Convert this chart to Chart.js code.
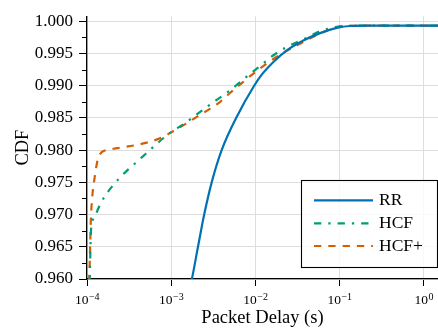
<!DOCTYPE html>
<html><head><meta charset="utf-8">
<script src="https://cdn.jsdelivr.net/npm/chart.js@4"></script>
<style>html,body{margin:0;padding:0;background:#fff;}#wrap{width:438px;height:329px;}</style>
</head><body><div id="wrap"><canvas id="c" width="438" height="329"></canvas></div>
<script>
// ---- data ----
const seriesNames = ['RR', 'HCF', 'HCF+'];

const rrX = [1.72e-3, 1.763e-3, 2.083e-3, 2.468e-3, 3.03e-3, 3.981e-3, 5.917e-3, 9.68e-3, 1.204e-2, 1.640e-2, 2.365e-2, 3.724e-2, 5.875e-2, 9.277e-2, 1.334e-1, 2.305e-1, 1.5];
const rrY = [0.9594, 0.9600, 0.9650, 0.9700, 0.9750, 0.9800, 0.9850, 0.9900, 0.9918, 0.9937, 0.9955, 0.99703, 0.99817, 0.99898, 0.99928, 0.99933, 0.99935];

const hcfX = [1.075e-4, 1.095e-4, 1.115e-4, 1.22e-4, 1.40e-4, 1.60e-4, 2.01e-4, 2.42e-4, 3.03e-4, 3.82e-4, 5.0e-4, 6.3e-4, 8.05e-4, 1.0e-3, 1.401e-3, 2.907e-3, 5.022e-3, 8.215e-3, 1.05e-2, 1.644e-2, 2.366e-2, 4.087e-2, 5.875e-2, 9.88e-2, 1.53e-1, 1.5];
const hcfY = [0.9595, 0.9639, 0.9675, 0.9695, 0.9713, 0.9727, 0.97445, 0.97563, 0.97691, 0.97807, 0.97945, 0.98063, 0.98185, 0.9828, 0.98404, 0.9871, 0.9893, 0.9916, 0.9927, 0.99474, 0.99602, 0.99745, 0.99847, 0.9992, 0.99932, 0.99935];

const hcfPlusX = [1.06e-4, 1.09e-4, 1.11e-4, 1.15e-4, 1.21e-4, 1.28e-4, 1.36e-4, 1.5e-4, 1.6e-4, 2.3e-4, 3.6e-4, 5.75e-4, 8.3e-4, 1.0e-3, 1.47e-3, 2.02e-3, 2.91e-3, 3.82e-3, 5.0e-3, 6.9e-3, 9.5e-3, 1.8e-2, 3.4e-2, 6.4e-2, 1.0e-1, 1.5e-1, 1.5];
const hcfPlusY = [0.9595, 0.965, 0.969, 0.9725, 0.975, 0.9772, 0.9788, 0.9797, 0.9799, 0.98032, 0.98073, 0.98135, 0.98216, 0.98277, 0.98404, 0.98517, 0.98644, 0.98751, 0.98888, 0.99041, 0.9919, 0.9945, 0.99653, 0.99832, 0.99918, 0.99932, 0.99935];

const xTickValues = [1e-4, 1e-3, 1e-2, 1e-1, 1];
const xTickExponents = ['\u22124', '\u22123', '\u22122', '\u22121', '0'];
const yTickValues = [0.960, 0.965, 0.970, 0.975, 0.980, 0.985, 0.990, 0.995, 1.000];
const yMinorTickValues = [0.9625, 0.9675, 0.9725, 0.9775, 0.9825, 0.9875, 0.9925, 0.9975];

// ---- chart ----
const FONT = "'Liberation Serif', 'Times New Roman', serif";
const zip = (xs, ys) => xs.map((x, i) => ({ x: x, y: ys[i] }));

const decor = {
  id: 'decor',
  afterDraw(chart) {
    const { ctx, scales: { x, y }, chartArea } = chart;
    ctx.save();
    ctx.strokeStyle = '#000';
    ctx.lineWidth = 1;
    yMinorTickValues.forEach(v => {
      const py = Math.round(y.getPixelForValue(v)) + 0.5;
      ctx.beginPath();
      ctx.moveTo(chartArea.left - 5, py);
      ctx.lineTo(chartArea.left, py);
      ctx.stroke();
    });
    ctx.fillStyle = '#000';
    ctx.textBaseline = 'alphabetic';
    ctx.textAlign = 'left';
    const baseFont = '13.5px ' + FONT, expFont = '10px ' + FONT;
    const baseY = chartArea.bottom + 25;
    xTickValues.forEach((v, i) => {
      const px = x.getPixelForValue(v);
      ctx.font = baseFont; const wb = ctx.measureText('10').width;
      ctx.font = expFont; const we = ctx.measureText(xTickExponents[i]).width;
      const sx = px - (wb + we) / 2;
      ctx.font = baseFont; ctx.fillText('10', sx, baseY);
      ctx.font = expFont; ctx.fillText(xTickExponents[i], sx + wb + 0.5, baseY - 4.5);
    });
    ctx.restore();
  },
  afterDatasetsDraw(chart) {
    const { ctx, chartArea } = chart;
    const w = 136, h = 87;
    const right = chartArea.right - 1, bottom = chartArea.bottom - 12;
    const left = right - w, top = bottom - h;
    ctx.save();
    ctx.fillStyle = 'rgba(255,255,255,0.8)';
    ctx.fillRect(left, top, w, h);
    ctx.strokeStyle = '#000';
    ctx.lineWidth = 1.1;
    ctx.strokeRect(Math.round(left) + 0.5, Math.round(top) + 0.5, w, h);
    const rows = [20.3, 43.3, 66];
    chart.data.datasets.forEach((ds, i) => {
      const yy = top + rows[i];
      ctx.strokeStyle = ds.borderColor;
      ctx.lineWidth = ds.borderWidth;
      ctx.setLineDash(ds.borderDash || []);
      ctx.lineCap = 'butt';
      ctx.beginPath();
      ctx.moveTo(left + 13, yy);
      ctx.lineTo(left + 72, yy);
      ctx.stroke();
      ctx.setLineDash([]);
      ctx.fillStyle = '#000';
      ctx.font = '17.5px ' + FONT;
      ctx.textBaseline = 'middle';
      ctx.textAlign = 'left';
      ctx.fillText(ds.label, left + 78, yy + 0.5);
    });
    ctx.restore();
  }
};

new Chart(document.getElementById('c'), {
  type: 'line',
  data: {
    datasets: [
      { label: seriesNames[0], data: zip(rrX, rrY), borderColor: '#0072B2', borderWidth: 2.2, pointRadius: 0, fill: false, cubicInterpolationMode: 'monotone' },
      { label: seriesNames[1], data: zip(hcfX, hcfY), borderColor: '#009E73', borderWidth: 2.2, borderDash: [7.3, 7, 2.3, 7], pointRadius: 0, fill: false, cubicInterpolationMode: 'monotone' },
      { label: seriesNames[2], data: zip(hcfPlusX, hcfPlusY), borderColor: '#D55E00', borderWidth: 2.2, borderDash: [7.3, 7], pointRadius: 0, fill: false, cubicInterpolationMode: 'monotone' }
    ]
  },
  options: {
    responsive: false,
    animation: false,
    devicePixelRatio: 1,
    layout: { padding: { top: 12, right: 0, left: 0, bottom: 0 } },
    plugins: { legend: { display: false }, tooltip: { enabled: false } },
    scales: {
      x: {
        type: 'logarithmic', min: 1e-4, max: 1.48,
        afterBuildTicks: s => { s.ticks = xTickValues.map(v => ({ value: v })); },
        afterFit: s => { s.height = 50; },
        grid: { color: '#dedede', lineWidth: 1, tickLength: 7, tickColor: '#000', tickWidth: 1 },
        border: { color: '#000', width: 1.3 },
        ticks: { display: false },
        title: { display: true, text: 'Packet Delay (s)', color: '#000', font: { family: FONT, size: 18.5, lineHeight: 1.2 }, padding: { top: 0, bottom: 0 } }
      },
      y: {
        type: 'linear', min: 0.96, max: 1.0008,
        afterBuildTicks: s => { s.ticks = yTickValues.map(v => ({ value: v })); },
        afterFit: s => { s.width = 87; },
        grid: { color: '#dedede', lineWidth: 1, tickLength: 8, tickColor: '#000', tickWidth: 1 },
        border: { color: '#000', width: 1.3 },
        ticks: { color: '#000', font: { family: FONT, size: 17 }, padding: 6, autoSkip: false, callback: v => Number(v).toFixed(3) },
        title: { display: true, text: 'CDF', color: '#000', font: { family: FONT, size: 18.5, lineHeight: 1.2 }, padding: { top: 12, bottom: 0 } }
      }
    }
  },
  plugins: [decor]
});
</script>
</body></html>
